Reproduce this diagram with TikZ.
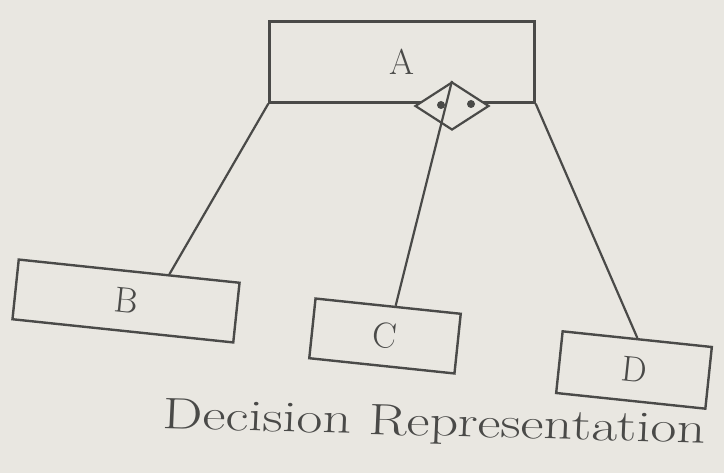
\documentclass[tikz,border=0pt]{standalone}
\usetikzlibrary{shapes.geometric,calc}
\definecolor{paper}{HTML}{E9E7E1}
\definecolor{ink}{HTML}{4A4A48}
\tikzset{
  box/.style={draw=ink, line width=2.4pt, rectangle, inner sep=0pt, font=\fontsize{36}{40}\selectfont, text=ink},
  link/.style={draw=ink, line width=2.2pt},
  dot/.style={circle, fill=ink, inner sep=0pt, minimum size=8pt}
}
\begin{document}
\begin{tikzpicture}[x=1pt,y=-1pt]
\fill[paper] (0,0) rectangle (724,473);
\useasboundingbox (0,0) rectangle (724,473);
\node[box, minimum width=265pt, minimum height=81pt] (A) at (402,62) {A};
\node[box, minimum width=222pt, minimum height=60pt, rotate=-6] (B) at (126,301) {B};
\node[box, minimum width=146pt, minimum height=60pt, rotate=-6] (C) at (385,336) {C};
\node[box, minimum width=150pt, minimum height=62pt, rotate=-6] (D) at (634,370) {D};
\node[draw=ink, line width=2.2pt, diamond, aspect=1.5, minimum width=74pt, minimum height=48pt, inner sep=0pt, fill=paper] (dm) at (452,106) {};
\node[dot] (d1) at (441,105) {};
\node[dot] (d2) at (471,104) {};
\coordinate (bt) at ($(B.north west)!0.68!(B.north east)$);
\coordinate (ct) at ($(C.north west)!0.55!(C.north east)$);
\draw[link] (A.south west) -- (bt);
\draw[link] (dm.north) -- (ct);
\draw[link] (A.south east) -- (D.north);
\node[font=\fontsize{44}{50}\selectfont, text=ink, anchor=base, xscale=1.28, rotate=-2] (cap) at (434,436) {Decision Representation};
\end{tikzpicture}
\end{document}
